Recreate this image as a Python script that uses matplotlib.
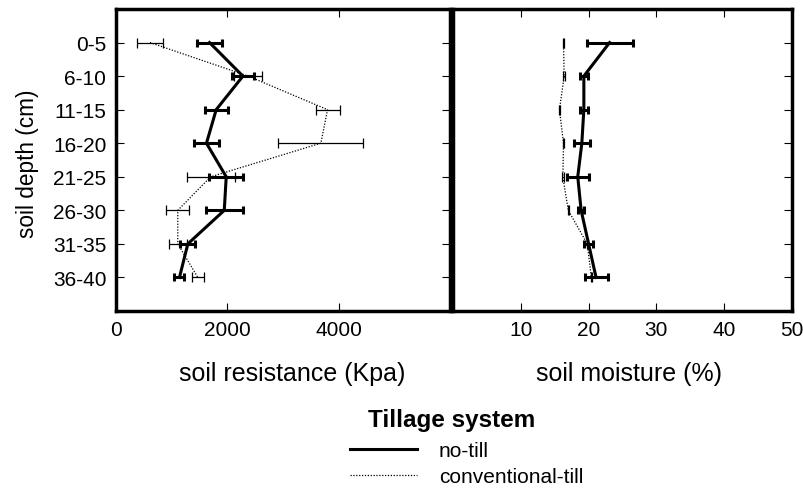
import numpy as np
import matplotlib
matplotlib.use('Agg')
import matplotlib.pyplot as plt
from matplotlib.lines import Line2D

plt.rcParams['font.family'] = ['Liberation Sans', 'DejaVu Sans']

depth = ['0-5', '6-10', '11-15', '16-20', '21-25', '26-30', '31-35', '36-40']

# soil resistance (Kpa), mean and error
res_nt = [1680, 2280, 1800, 1625, 1980, 1945, 1290, 1140]
res_nt_err = [220, 205, 205, 220, 310, 330, 135, 90]
res_ct = [610, 2375, 3800, 3680, 1700, 1110, 1110, 1470]
res_ct_err = [230, 250, 215, 765, 430, 210, 165, 110]

# soil moisture (%), mean and error
mst_nt = [23.1, 19.3, 19.3, 19.0, 18.4, 18.9, 20.0, 21.1]
mst_nt_err = [3.4, 0.6, 0.55, 1.2, 1.65, 0.4, 0.65, 1.7]
mst_ct = [16.3, 16.4, 15.7, 16.3, 16.2, 17.0, 19.8, 20.4]
mst_ct_err = [0.1, 0.15, 0.1, 0.1, 0.15, 0.1, 0.1, 0.1]

W, H = 804, 489
fig = plt.figure(figsize=(W/100, H/100), dpi=100)
top, bot = 10, 312
ax1 = fig.add_axes([116/W, 1-bot/H, (450-116)/W, (bot-top)/H])
ax2 = fig.add_axes([453/W, 1-bot/H, (792-453)/W, (bot-top)/H])

ypos = np.arange(1, len(depth)+1)

nt_style = dict(fmt='-', color='k', lw=2.2, elinewidth=2.2, capsize=2.6, capthick=2.2, zorder=3)
ct_style = dict(fmt='-', color='k', lw=0.9, ls=(0, (1, 1.3)), elinewidth=0.9, capsize=3.5, capthick=0.9, zorder=2)

ax1.errorbar(res_ct, ypos, xerr=res_ct_err, **ct_style)
ax1.errorbar(res_nt, ypos, xerr=res_nt_err, **nt_style)
ax2.errorbar(mst_ct, ypos, xerr=mst_ct_err, **ct_style)
ax2.errorbar(mst_nt, ypos, xerr=mst_nt_err, **nt_style)

for ax in (ax1, ax2):
    ax.set_ylim(9, 0)
    ax.set_yticks(ypos)
    for s in ax.spines.values():
        s.set_linewidth(2.5)
    ax.tick_params(direction='in', length=6, width=0.8, top=True, labelsize=15)
    ax.tick_params(axis='x', pad=6.5)
    ax.tick_params(axis='y', pad=7)

ax1.set_xlim(0, 6000)
ax1.set_xticks([0, 2000, 4000])
ax1.set_yticklabels(depth)
ax1.tick_params(right=True)

ax2.set_xlim(0, 50)
ax2.set_xticks([10, 20, 30, 40, 50])
ax2.tick_params(left=False, right=True, labelleft=False)

ax1.set_xlabel('soil resistance (Kpa)', fontsize=18)
ax1.xaxis.set_label_coords((292-116)/(450-116), -(362-bot)/(bot-top))
ax2.set_xlabel('soil moisture (%)', fontsize=18)
ax2.xaxis.set_label_coords((629-453)/(792-453), -(362-bot)/(bot-top))

fig.text(28/W, 1-164/H, 'soil depth (cm)', rotation=90, ha='center', va='center', fontsize=16.3)

# legend: title as separate text, entries below
fig.text(452/W, 1-420/H, 'Tillage system', ha='center', va='center',
         fontsize=17.5, fontweight='bold')
handles = [Line2D([], [], color='k', lw=2.2),
           Line2D([], [], color='k', lw=0.9, ls=(0, (1, 1.3)))]
fig.legend(handles, ['no-till', 'conventional-till'], loc='center left',
           bbox_to_anchor=(340/W, 1-464.5/H), frameon=False, borderpad=0,
           fontsize=15, handlelength=3.2, handletextpad=1.05, labelspacing=0.35)

fig.savefig('out.png', dpi=100)
